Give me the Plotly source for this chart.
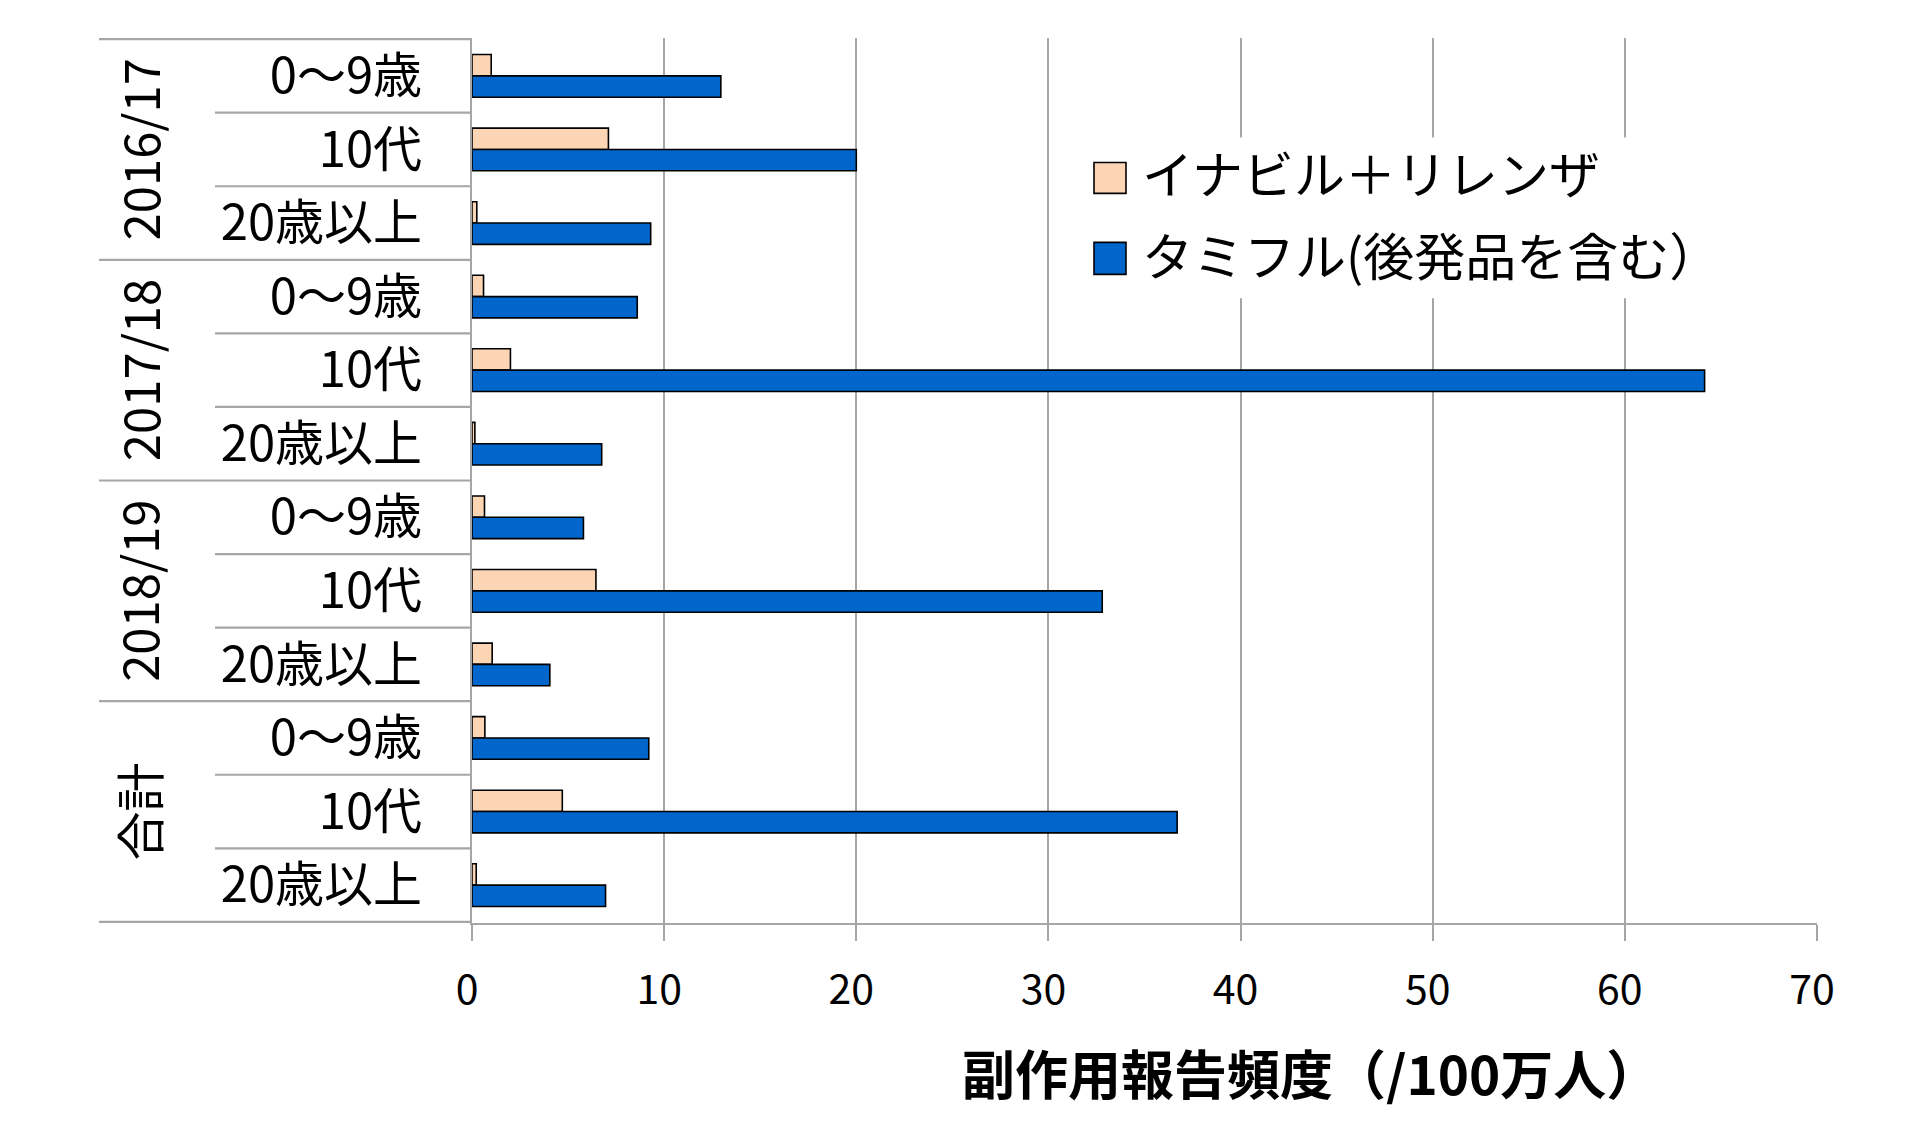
import plotly.graph_objects as go

# ---------------- data ----------------
seasons = ["2016/17", "2017/18", "2018/19", "合計"]
ages = ["0〜9歳", "10代", "20歳以上"]
series_names = ["イナビル＋リレンザ", "タミフル(後発品を含む）"]
inavir_relenza = [1.0, 7.1, 0.25, 0.6, 2.0, 0.15, 0.65, 6.45, 1.05, 0.67, 4.7, 0.22]
tamiflu = [12.95, 20.0, 9.3, 8.6, 64.15, 6.75, 5.8, 32.8, 4.05, 9.2, 36.7, 6.95]
x_ticks = [0, 10, 20, 30, 40, 50, 60, 70]
x_title = "副作用報告頻度（/100万人）"

# ---------------- layout geometry (pixels) ----------------
W, H = 1912, 1122
L, R, T, B = 472, 1817, 37.5, 923
PW, PH = R - L, B - T

def px(X):
    return (X - L) / PW

def py(Y):
    return (B - Y) / PH

FONT = "Noto Sans CJK JP"
GRAY = "#A6A6A6"
PEACH = "#FCD5B5"
BLUE = "#0066CC"

keys = [f"{s} {a}" for s in seasons for a in ages]
age_labels = [a for s in seasons for a in ages]

fig = go.Figure()
fig.add_trace(go.Bar(
    y=keys, x=inavir_relenza, orientation="h", name=series_names[0],
    marker=dict(color=PEACH, line=dict(color="black", width=1.6)),
    showlegend=False,
))
fig.add_trace(go.Bar(
    y=keys, x=tamiflu, orientation="h", name=series_names[1],
    marker=dict(color=BLUE, line=dict(color="black", width=1.6)),
    showlegend=False,
))

shapes = []
n = len(keys)
# horizontal separators in the label area
for i in range(n + 1):
    y = i - 0.5
    x0 = px(99) if i % 3 == 0 else px(215)
    shapes.append(dict(type="line", xref="paper", yref="y", x0=x0, x1=0,
                       y0=y, y1=y, line=dict(color=GRAY, width=2.2)))

# legend (manual, large markers)
shapes.append(dict(type="rect", xref="paper", yref="paper",
                   x0=px(1070), x1=px(1712), y0=py(298), y1=py(137),
                   fillcolor="white", line=dict(width=0), layer="above"))
legend_rows = [(PEACH, 162, 193, 172), (BLUE, 242, 274, 254)]
annotations = []
for (col, y0, y1, yc), name in zip(legend_rows, series_names):
    shapes.append(dict(type="rect", xref="paper", yref="paper",
                       x0=px(1094), x1=px(1126), y0=py(y1), y1=py(y0),
                       fillcolor=col, line=dict(color="black", width=1.6),
                       layer="above"))
    annotations.append(dict(xref="paper", yref="paper", x=px(1140), y=py(yc),
                            text=name, showarrow=False, xanchor="left",
                            yanchor="middle",
                            font=dict(family=FONT, size=51, color="black")))

# rotated season labels
for gi, s in enumerate(seasons):
    annotations.append(dict(xref="paper", yref="y", x=px(138), y=keys[gi * 3 + 1],
                            text=s, textangle=-90, showarrow=False,
                            xanchor="center", yanchor="middle",
                            font=dict(family=FONT, size=49, color="black")))

# x axis title
annotations.append(dict(xref="paper", yref="paper", x=px(1310), y=py(1072),
                        text="<b>" + x_title + "</b>", showarrow=False,
                        xanchor="center", yanchor="middle",
                        font=dict(family=FONT, size=53, color="black")))

fig.update_layout(
    width=W, height=H,
    margin=dict(l=L, r=W - R, t=T, b=H - B, pad=0),
    paper_bgcolor="white", plot_bgcolor="white",
    barmode="group", bargap=0.42, bargroupgap=0,
    font=dict(family=FONT, color="black"),
    shapes=shapes, annotations=annotations,
    showlegend=False,
)
fig.update_xaxes(
    range=[0, 70], tickmode="array", tickvals=x_ticks,
    showgrid=True, gridcolor=GRAY, gridwidth=1.6,
    showline=True, linecolor=GRAY, linewidth=2.2,
    ticks="outside", ticklen=16, tickcolor=GRAY, tickwidth=2.2,
    tickfont=dict(family=FONT, size=41, color="black"),
    ticklabelstandoff=14, ticklabelshift=-5,
    zeroline=False, fixedrange=True,
)
fig.update_yaxes(
    type="category", categoryorder="array", categoryarray=keys,
    autorange="reversed",
    tickmode="array", tickvals=keys, ticktext=age_labels,
    showgrid=False, showline=True, linecolor=GRAY, linewidth=2.2,
    ticks="", tickfont=dict(family=FONT, size=49, color="black"),
    ticklabelstandoff=38, zeroline=False, fixedrange=True,
)

fig.write_html(
    "out.html",
    config={"displayModeBar": False},
    post_script="document.body.style.margin='0';document.body.style.overflow='hidden';",
)
